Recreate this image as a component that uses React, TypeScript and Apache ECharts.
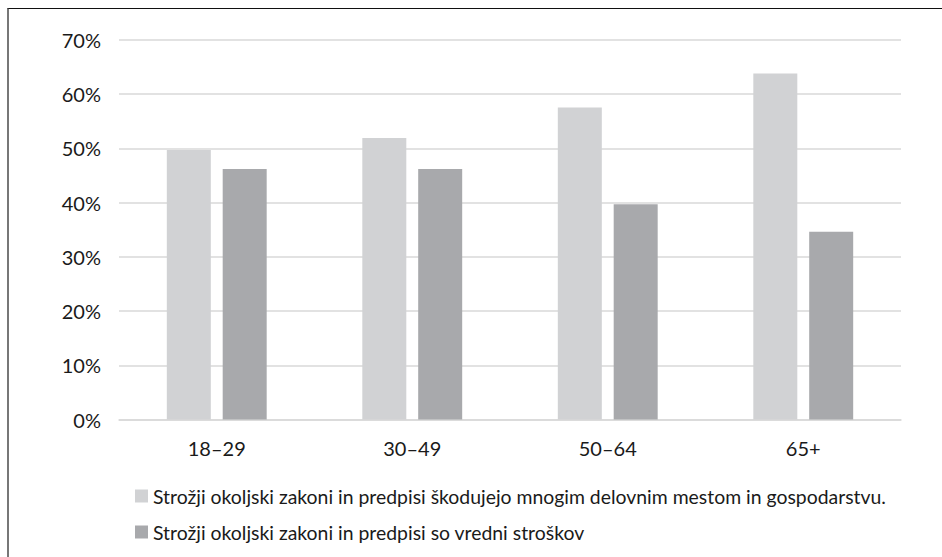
import React, { useEffect, useRef } from "react";
import * as echarts from "echarts";

const categories = ["18–29", "30–49", "50–64", "65+"];
const seriesNames = [
  "Strožji okoljski zakoni in predpisi škodujejo mnogim delovnim mestom in gospodarstvu.",
  "Strožji okoljski zakoni in predpisi so vredni stroškov",
];
const harmfulValues = [49.7, 51.9, 57.5, 63.8];
const worthValues = [46.2, 46.2, 39.7, 34.6];
const yTicks = { min: 0, max: 70, interval: 10 };

const FONT = "Lato, 'Open Sans', sans-serif";

export default function App() {
  const ref = useRef<HTMLDivElement>(null);
  useEffect(() => {
    if (!ref.current) return;
    const chart = echarts.init(ref.current, undefined, { renderer: "svg" });
    chart.setOption({
      animation: false,
      backgroundColor: "#ffffff",
      textStyle: { fontFamily: FONT },
      grid: { left: 119, right: 41, top: 39.8, bottom: 137.5, containLabel: false },
      legend: {
        orient: "vertical",
        left: 130,
        top: 481,
        itemWidth: 13,
        itemHeight: 13,
        itemGap: 16,
        icon: "rect",
        textStyle: { fontFamily: FONT, fontSize: 19.4, lineHeight: 20, color: "#1a1a1a" },
        data: seriesNames,
      },
      xAxis: {
        type: "category",
        data: categories,
        axisLine: { show: true, lineStyle: { color: "#d9d9d9", width: 1.5 } },
        axisTick: { show: false },
        axisLabel: { fontFamily: FONT, fontSize: 20, lineHeight: 20, color: "#1a1a1a", margin: 18 },
      },
      yAxis: {
        type: "value",
        min: yTicks.min,
        max: yTicks.max,
        interval: yTicks.interval,
        axisLine: { show: false },
        axisTick: { show: false },
        splitLine: { lineStyle: { color: "#d9d9d9", width: 1.5 } },
        axisLabel: { fontFamily: FONT, fontSize: 20, color: "#1a1a1a", margin: 18, formatter: "{value}%" },
      },
      series: [
        {
          name: seriesNames[0],
          type: "bar",
          data: harmfulValues,
          barWidth: 44,
          barGap: "27%",
          itemStyle: { color: "#d1d2d4" },
        },
        {
          name: seriesNames[1],
          type: "bar",
          data: worthValues,
          barWidth: 44,
          barGap: "27%",
          itemStyle: { color: "#a8a9ac" },
        },
      ],
    });
    return () => chart.dispose();
  }, []);
  return (
    <div style={{ position: "absolute", left: 0, top: 0, width: 942, height: 557, overflow: "hidden", background: "#fff" }}>
      <div ref={ref} style={{ position: "absolute", left: 0, top: 0, width: 942, height: 557 }} />
      <div
        style={{
          position: "absolute",
          left: 7,
          top: 7.5,
          width: 1000,
          height: 1000,
          borderTop: "1.5px solid #111",
          borderLeft: "2px solid #777",
          pointerEvents: "none",
        }}
      />
    </div>
  );
}
